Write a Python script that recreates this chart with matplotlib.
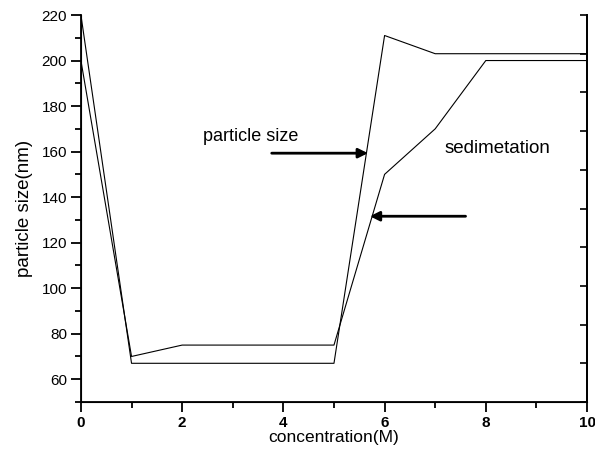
import matplotlib.pyplot as plt
import matplotlib.ticker as mticker

plt.rcParams['font.family'] = ['Liberation Sans', 'DejaVu Sans']

# concentration (M)
conc = [0, 1, 2, 3, 4, 5, 6, 7, 8, 9, 10]
particle_size = [220, 67, 67, 67, 67, 67, 211, 203, 203, 203, 203]
sedimentation = [200, 70, 75, 75, 75, 75, 150, 170, 200, 200, 200]

fig = plt.figure(figsize=(5.95, 4.55), dpi=100)
ax = fig.add_axes([0.136, 0.1165, 0.8506, 0.8505])

ax.plot(conc, particle_size, color='black', lw=0.8)
ax.plot(conc, sedimentation, color='black', lw=0.8)

ax.set_xlim(0, 10)
ax.set_ylim(50, 220)
ax.xaxis.set_major_locator(mticker.MultipleLocator(2))
ax.xaxis.set_minor_locator(mticker.MultipleLocator(1))
ax.set_yticks([60, 80, 100, 120, 140, 160, 180, 200, 220])
ax.yaxis.set_minor_locator(mticker.MultipleLocator(10))

ax.spines['top'].set_visible(False)
for s in ['left', 'bottom', 'right']:
    ax.spines[s].set_linewidth(1.3)
ax.tick_params(which='major', direction='out', length=7, width=1.3, labelsize=11, pad=3)
ax.tick_params(which='minor', direction='out', length=4, width=1.3)
for lab in ax.get_xticklabels():
    lab.set_fontweight('bold')

ax.set_xlabel('concentration(M)', fontsize=12.5, labelpad=0)
ax.set_ylabel('particle size(nm)', fontsize=13.5, labelpad=6)

# right axis: ticks only
ax2 = ax.twinx()
ax2.set_ylim(0, 10)
ax2.yaxis.set_major_locator(mticker.MultipleLocator(1))
ax2.tick_params(axis='y', direction='in', length=5, width=1.2, labelright=False)
ax2.spines['top'].set_visible(False)
ax2.spines['right'].set_linewidth(1.3)

ax.text(2.41, 166.5, 'particle size', fontsize=13, va='center')
ax.text(7.19, 161.5, 'sedimetation', fontsize=13.5, va='center')

arrow = dict(arrowstyle='-|>', color='black', lw=2.0, mutation_scale=14,
             shrinkA=0, shrinkB=0)
ax.annotate('', xy=(5.67, 159.3), xytext=(3.77, 159.3), arrowprops=arrow)
ax.annotate('', xy=(5.71, 131.6), xytext=(7.6, 131.6), arrowprops=arrow)

fig.savefig('out.png', dpi=100)
